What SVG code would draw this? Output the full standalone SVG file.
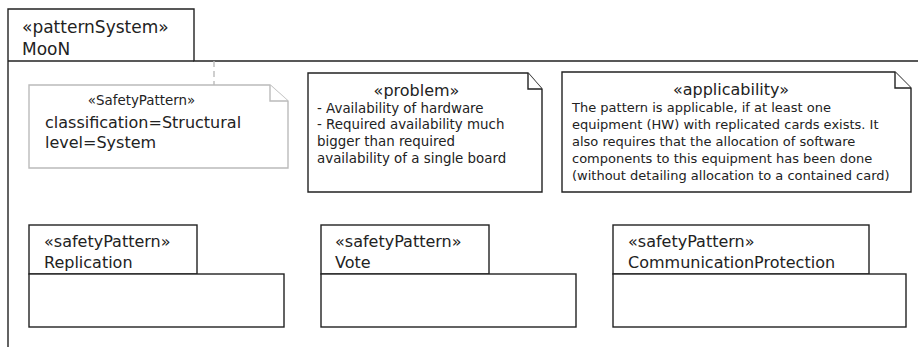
<svg xmlns="http://www.w3.org/2000/svg" width="918" height="347" viewBox="0 0 918 347">
<style>
.ln{fill:#fff;stroke:#222;stroke-width:1.4}
.gr{fill:#fff;stroke:#bbb;stroke-width:1.4}
text{font-family:"DejaVu Sans",sans-serif;fill:#222}
.t17{font-size:17px}
.t16{font-size:16px}
.t13{font-size:13px}
.t134{font-size:13.4px}
.t12{font-size:13.4px}
</style>
<rect width="918" height="347" fill="#fff"/>
<g id="mooN">
<path class="ln" d="M8,347 V9 H194 V61 H918"/>
<path class="ln" d="M8,61 H194" fill="none"/>
<text class="t17" x="22" y="33">«patternSystem»</text>
<text class="t17" x="22" y="55">MooN</text>
</g>
<g id="connectors">
<line x1="214" y1="61" x2="214" y2="85" stroke="#bbb" stroke-width="1.4" stroke-dasharray="6,4"/>
</g>
<g id="safetyPatternNote">
<path class="gr" d="M29,85 H270 L288,101 V168 H29 Z"/>
<path class="gr" d="M270,85 V101 H288" fill="none"/>
<text class="t12" x="141.5" y="105" text-anchor="middle">«SafetyPattern»</text>
<text class="t16" x="45" y="128">classification=Structural</text>
<text class="t16" x="45" y="148">level=System</text>
</g>
<g id="problemNote">
<path class="ln" d="M308,73 H528 L542,89 V192 H308 Z"/>
<path class="ln" d="M528,73 V89 H542" fill="none"/>
<text class="t16" x="416.5" y="95.5" text-anchor="middle">«problem»</text>
<text class="t134" x="317" y="112.5">- Availability of hardware</text>
<text class="t134" x="317" y="129.3">- Required availability much</text>
<text class="t134" x="317" y="146">bigger than required</text>
<text class="t134" x="317" y="162.7">availability of a single board</text>
</g>
<g id="applicabilityNote">
<path class="ln" d="M562,72 H895 L911,88 V192 H562 Z"/>
<path class="ln" d="M895,72 V88 H911" fill="none"/>
<text class="t16" x="731" y="95" text-anchor="middle">«applicability»</text>
<text class="t13" x="572" y="111.5">The pattern is applicable, if at least one</text>
<text class="t13" x="572" y="128.5">equipment (HW) with replicated cards exists. It</text>
<text class="t13" x="572" y="145.5">also requires that the allocation of software</text>
<text class="t13" x="572" y="162.5">components to this equipment has been done</text>
<text class="t13" x="572" y="179.5">(without detailing allocation to a contained card)</text>
</g>
<g id="replication">
<rect class="ln" x="29" y="225" width="168" height="49"/>
<rect class="ln" x="29" y="274" width="255" height="53"/>
<text class="t16" x="44" y="246.5">«safetyPattern»</text>
<text class="t16" x="44" y="267.5">Replication</text>
</g>
<g id="vote">
<rect class="ln" x="321" y="225" width="168" height="49"/>
<rect class="ln" x="321" y="274" width="255" height="53"/>
<text class="t16" x="335" y="246.5">«safetyPattern»</text>
<text class="t16" x="335" y="267.5">Vote</text>
</g>
<g id="communicationProtection">
<rect class="ln" x="613" y="225" width="256" height="49"/>
<rect class="ln" x="613" y="274" width="293" height="53"/>
<text class="t16" x="628" y="246.5">«safetyPattern»</text>
<text class="t16" x="628" y="267.5">CommunicationProtection</text>
</g>
</svg>
